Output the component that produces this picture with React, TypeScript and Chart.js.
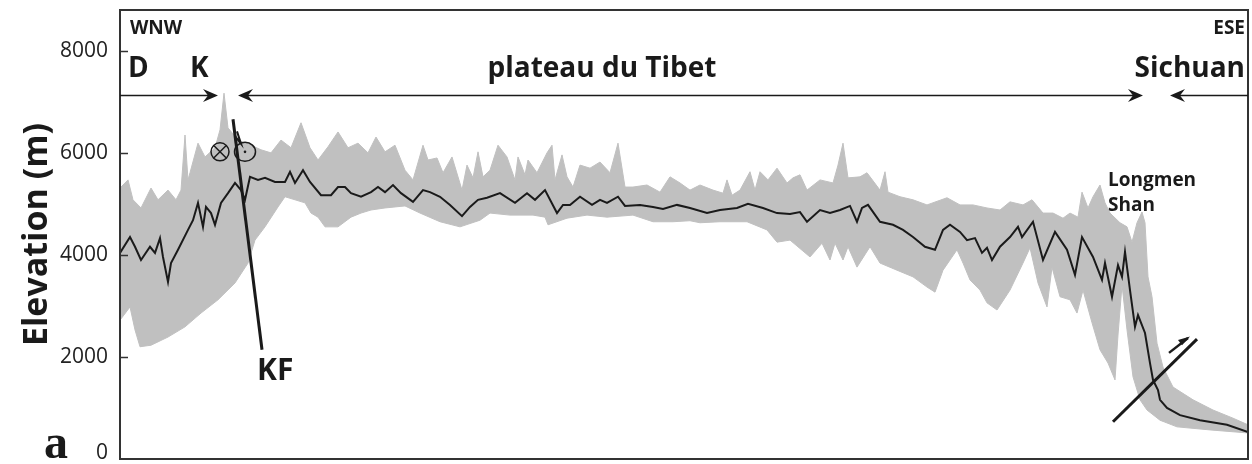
import React, { useEffect, useRef } from "react";
import { Chart, registerables } from "chart.js";

Chart.register(...registerables);

// Y axis ticks (m)
const yTicks = [0, 2000, 4000, 6000, 8000];

// Mean elevation profile (distance along profile, elevation m)
const meanDist = [0, 10, 15, 21, 30, 35, 40, 43, 48, 51, 58, 68, 73, 78, 83, 86, 91, 95, 101, 108, 115, 121, 125, 130, 138, 145, 155, 165, 170, 175, 183, 190, 201, 211, 218, 225, 231, 241, 251, 258, 265, 273, 281, 293, 303, 310, 320, 330, 342, 350, 358, 367, 380, 395, 407, 415, 425, 437, 443, 450, 460, 472, 480, 487, 498, 505, 520, 533, 543, 557, 570, 587, 600, 617, 628, 643, 657, 670, 680, 687, 700, 710, 720, 730, 737, 742, 748, 760, 773, 783, 793, 805, 815, 823, 830, 840, 847, 855, 862, 867, 872, 880, 890, 898, 902, 913, 923, 935, 947, 955, 962, 973, 982, 985, 992, 998, 1002, 1005, 1010, 1015, 1018, 1025, 1030, 1033, 1038, 1040, 1047, 1060, 1080, 1107, 1128];
const meanElev = [4040, 4350, 4160, 3900, 4160, 4040, 4330, 3960, 3470, 3840, 4100, 4490, 4680, 5020, 4550, 4940, 4820, 4590, 5020, 5210, 5410, 5270, 5080, 5530, 5470, 5510, 5430, 5430, 5630, 5410, 5660, 5430, 5170, 5170, 5330, 5330, 5210, 5140, 5230, 5330, 5230, 5370, 5210, 5040, 5270, 5230, 5140, 4980, 4760, 4940, 5080, 5120, 5210, 5020, 5210, 5080, 5270, 4820, 4980, 4980, 5140, 4980, 5080, 5020, 5140, 4960, 4980, 4940, 4900, 4980, 4920, 4820, 4880, 4920, 5000, 4920, 4820, 4800, 4840, 4650, 4880, 4820, 4880, 4960, 4650, 4920, 4980, 4650, 4590, 4490, 4350, 4160, 4100, 4490, 4590, 4450, 4290, 4330, 4040, 4140, 3900, 4160, 4350, 4550, 4350, 4650, 3900, 4450, 4100, 3610, 4350, 3960, 3510, 3840, 3180, 3800, 3570, 4060, 3310, 2590, 2820, 2470, 1880, 1550, 1350, 1160, 1000, 860, 760, 670, 530];

// Maximum elevation envelope
const maxDist = [0, 8, 13, 21, 31, 38, 48, 56, 61, 65, 68, 70, 78, 85, 95, 100, 104, 108, 118, 131, 141, 151, 161, 171, 181, 190, 198, 208, 218, 228, 238, 248, 256, 265, 275, 285, 293, 303, 308, 317, 323, 332, 342, 347, 353, 358, 363, 370, 378, 387, 395, 398, 405, 408, 417, 427, 432, 435, 442, 447, 453, 460, 470, 480, 490, 498, 505, 513, 527, 540, 550, 560, 570, 580, 593, 603, 607, 612, 620, 630, 635, 640, 648, 657, 667, 673, 680, 687, 700, 713, 718, 723, 728, 740, 747, 760, 765, 768, 780, 793, 807, 827, 840, 853, 867, 880, 890, 903, 912, 923, 933, 943, 950, 958, 962, 968, 973, 980, 985, 990, 1000, 1007, 1012, 1017, 1022, 1025, 1028, 1032, 1037, 1043, 1053, 1073, 1093, 1113, 1128];
const maxElev = [5310, 5470, 5080, 4920, 5310, 5080, 5270, 5080, 5270, 6350, 5470, 5610, 6190, 5920, 6100, 6450, 7170, 6490, 6250, 6150, 6060, 6000, 6250, 6100, 6590, 6100, 5860, 6120, 6410, 6100, 6190, 6000, 6310, 6020, 6150, 5660, 5470, 6150, 5860, 5900, 5610, 5920, 5270, 5760, 5510, 6020, 5530, 5660, 6150, 5920, 5470, 5920, 5570, 5860, 5610, 6000, 6150, 5470, 5960, 5530, 5330, 5760, 5700, 5820, 5610, 6190, 5330, 5330, 5370, 5230, 5530, 5410, 5270, 5370, 5270, 5210, 5470, 5170, 5270, 5630, 5270, 5630, 5470, 5700, 5410, 5510, 5570, 5270, 5470, 5410, 5760, 6190, 5510, 5530, 5610, 5270, 5630, 5230, 5140, 5080, 4980, 5120, 4980, 4980, 4920, 4880, 5040, 4980, 5080, 4820, 4820, 4720, 4820, 4740, 5230, 4920, 5140, 5370, 5020, 4820, 4630, 4550, 4250, 4630, 4840, 4630, 3570, 3180, 2270, 1800, 1410, 1160, 960, 800, 670];

// Minimum elevation envelope
const minDist = [0, 10, 15, 20, 31, 48, 65, 81, 98, 115, 128, 135, 145, 158, 165, 175, 185, 191, 198, 205, 218, 231, 241, 251, 265, 285, 300, 320, 340, 360, 370, 390, 413, 425, 428, 447, 467, 487, 513, 533, 553, 570, 580, 600, 627, 647, 657, 670, 690, 702, 710, 715, 723, 728, 737, 750, 760, 777, 793, 807, 815, 823, 830, 837, 843, 850, 860, 867, 877, 890, 903, 910, 918, 927, 932, 940, 950, 957, 963, 972, 980, 988, 995, 998, 1002, 1007, 1013, 1020, 1027, 1040, 1057, 1090, 1128];
const minElev = [2720, 2980, 2530, 2200, 2230, 2390, 2590, 2860, 3120, 3450, 3840, 4290, 4550, 4940, 5140, 5080, 5020, 4820, 4740, 4550, 4550, 4740, 4820, 4880, 4920, 4960, 4820, 4650, 4550, 4680, 4820, 4780, 4780, 4740, 4590, 4720, 4780, 4740, 4780, 4650, 4650, 4670, 4630, 4650, 4650, 4490, 4250, 4290, 3960, 4230, 3900, 4230, 3900, 4160, 3760, 4160, 3840, 3700, 3570, 3370, 3270, 3700, 3900, 4100, 3840, 3510, 3310, 3060, 2920, 3310, 3840, 4140, 3450, 2980, 3760, 3180, 3120, 2860, 3310, 2670, 2140, 1880, 1550, 2430, 3410, 2530, 1610, 1160, 960, 760, 630, 570, 510];

const pts = (xs: number[], ys: number[]) => xs.map((x, i) => ({ x, y: ys[i] }));

const SANS = "'Open Sans', 'Noto Sans', sans-serif";
const INK = "#1a1a1a";

function arrowHead(ctx: CanvasRenderingContext2D, x: number, y: number, dir: number) {
  ctx.beginPath();
  ctx.moveTo(x, y);
  ctx.lineTo(x - dir * 15, y - 6.5);
  ctx.lineTo(x - dir * 10, y);
  ctx.lineTo(x - dir * 15, y + 6.5);
  ctx.closePath();
  ctx.fill();
}

const annotations = {
  id: "profileAnnotations",
  afterDraw(chart: any) {
    const { ctx, chartArea: a, scales } = chart;
    const X = (d: number) => scales.x.getPixelForValue(d);
    const Y = (e: number) => scales.y.getPixelForValue(e);
    ctx.save();

    // frame
    ctx.strokeStyle = "#333";
    ctx.lineWidth = 2;
    ctx.strokeRect(a.left, a.top, a.right - a.left, a.bottom - a.top);

    // inward ticks
    ctx.lineWidth = 1.5;
    yTicks.forEach((v) => {
      if (v === 0) return;
      const y = Math.round(Y(v)) + 0.5;
      ctx.beginPath();
      ctx.moveTo(a.left, y);
      ctx.lineTo(a.left + 8, y);
      ctx.stroke();
    });

    // zero label, nudged up so it stays on the page
    ctx.fillStyle = "#222";
    ctx.font = `21px ${SANS}`;
    ctx.textAlign = "right";
    ctx.textBaseline = "middle";
    ctx.fillText(String(yTicks[0]), a.left - 12, Y(yTicks[0]) - 6);

    ctx.fillStyle = INK;
    ctx.strokeStyle = INK;

    // direction labels
    ctx.font = `bold 19px ${SANS}`;
    ctx.textAlign = "left";
    ctx.fillText("WNW", X(10), Y(8430));
    ctx.textAlign = "right";
    ctx.fillText("ESE", X(1125), Y(8430));

    // region labels
    ctx.font = `bold 28px ${SANS}`;
    ctx.textAlign = "left";
    ctx.fillText("D", X(8), Y(7640));
    ctx.fillText("K", X(70), Y(7640));
    ctx.textAlign = "center";
    ctx.fillText("plateau du Tibet", X(482), Y(7640));
    ctx.textAlign = "right";
    ctx.fillText("Sichuan", X(1125), Y(7640));

    // arrow line
    const ay = Math.round(Y(7130)) + 0.5;
    ctx.lineWidth = 1.6;
    const seg = (x1: number, x2: number) => {
      ctx.beginPath();
      ctx.moveTo(x1, ay);
      ctx.lineTo(x2, ay);
      ctx.stroke();
    };
    seg(a.left, X(98) - 10);
    arrowHead(ctx, X(98), ay, 1);
    seg(X(118) + 10, X(1023) - 10);
    arrowHead(ctx, X(118), ay, -1);
    arrowHead(ctx, X(1023), ay, 1);
    seg(X(1050) + 10, a.right);
    arrowHead(ctx, X(1050), ay, -1);

    // strike-slip symbols
    ctx.lineWidth = 1.5;
    const cx1 = X(100), cy = Y(6020);
    ctx.beginPath();
    ctx.arc(cx1, cy, 9, 0, Math.PI * 2);
    ctx.stroke();
    ctx.beginPath();
    ctx.moveTo(cx1 - 6, cy - 6);
    ctx.lineTo(cx1 + 6, cy + 6);
    ctx.moveTo(cx1 + 6, cy - 6);
    ctx.lineTo(cx1 - 6, cy + 6);
    ctx.stroke();
    const cx2 = X(125);
    ctx.beginPath();
    ctx.ellipse(cx2, cy, 10.5, 9.5, 0, 0, Math.PI * 2);
    ctx.stroke();
    ctx.beginPath();
    ctx.arc(cx2, cy, 1.3, 0, Math.PI * 2);
    ctx.fill();

    // Kunlun fault line
    ctx.lineWidth = 3;
    ctx.beginPath();
    ctx.moveTo(X(113), Y(6660));
    ctx.lineTo(X(142), Y(2140));
    ctx.stroke();
    ctx.lineWidth = 2;
    ctx.beginPath();
    ctx.moveTo(X(117), Y(6420));
    ctx.lineTo(X(121), Y(6180));
    ctx.lineTo(X(115), Y(6330));
    ctx.stroke();

    ctx.font = `bold 30px ${SANS}`;
    ctx.textAlign = "left";
    ctx.fillText("KF", X(137), Y(1720));

    // Longmen Shan
    ctx.font = `bold 19px ${SANS}`;
    ctx.fillText("Longmen", X(988), Y(5450));
    ctx.fillText("Shan", X(988), Y(4960));

    // Longmen Shan thrust
    ctx.lineWidth = 3;
    ctx.beginPath();
    ctx.moveTo(X(993), Y(730));
    ctx.lineTo(X(1077), Y(2350));
    ctx.stroke();
    ctx.lineWidth = 2.5;
    ctx.beginPath();
    ctx.moveTo(X(1049), Y(2080));
    ctx.lineTo(X(1068), Y(2370));
    ctx.stroke();
    ctx.beginPath();
    ctx.moveTo(X(1070), Y(2400));
    ctx.lineTo(X(1058), Y(2330));
    ctx.lineTo(X(1062), Y(2230));
    ctx.closePath();
    ctx.fill();

    // panel letter
    ctx.font = "bold 48px 'Liberation Serif', 'Times New Roman', serif";
    ctx.textAlign = "left";
    ctx.textBaseline = "alphabetic";
    ctx.fillText("a", 44, 458);

    ctx.restore();
  },
};

export default function App() {
  const ref = useRef<HTMLCanvasElement>(null);

  useEffect(() => {
    if (!ref.current) return;
    const chart = new Chart(ref.current, {
      type: "line",
      data: {
        datasets: [
          {
            label: "Mean",
            data: pts(meanDist, meanElev),
            borderColor: INK,
            borderWidth: 2,
            pointRadius: 0,
            fill: false,
            tension: 0,
          },
          {
            label: "Max",
            data: pts(maxDist, maxElev),
            borderColor: "#c0c0c0",
            borderWidth: 1,
            backgroundColor: "#c0c0c0",
            pointRadius: 0,
            fill: "+1",
            tension: 0,
          },
          {
            label: "Min",
            data: pts(minDist, minElev),
            borderColor: "#c0c0c0",
            borderWidth: 1,
            pointRadius: 0,
            fill: false,
            tension: 0,
          },
        ],
      },
      options: {
        responsive: false,
        animation: false,
        events: [],
        layout: { padding: { left: 0, top: 10, right: 4, bottom: 5 } },
        plugins: { legend: { display: false }, tooltip: { enabled: false } },
        scales: {
          x: { type: "linear", min: 0, max: 1128, display: false },
          y: {
            type: "linear",
            min: 0,
            max: 8800,
            afterBuildTicks: (scale: any) => {
              scale.ticks = yTicks.map((v) => ({ value: v }));
            },
            afterFit: (scale: any) => {
              scale.width = 120;
              scale.paddingTop = 0;
              scale.paddingBottom = 0;
            },
            grid: { display: false, drawTicks: false },
            border: { display: false },
            ticks: {
              color: "#222",
              padding: 12,
              font: { family: SANS, size: 21 },
              callback: (v: any) => (v === 0 ? "" : String(v)),
            },
            title: {
              display: true,
              text: "Elevation (m)",
              color: INK,
              font: { family: SANS, size: 34, weight: "bold" },
              padding: { top: 17, bottom: 0 },
            },
          },
        },
      },
      plugins: [annotations],
    } as any);
    return () => chart.destroy();
  }, []);

  return (
    <div style={{ position: "absolute", left: 0, top: 0, width: 1252, height: 464, background: "#fff" }}>
      <canvas ref={ref} width={1252} height={464} style={{ display: "block" }} />
    </div>
  );
}
